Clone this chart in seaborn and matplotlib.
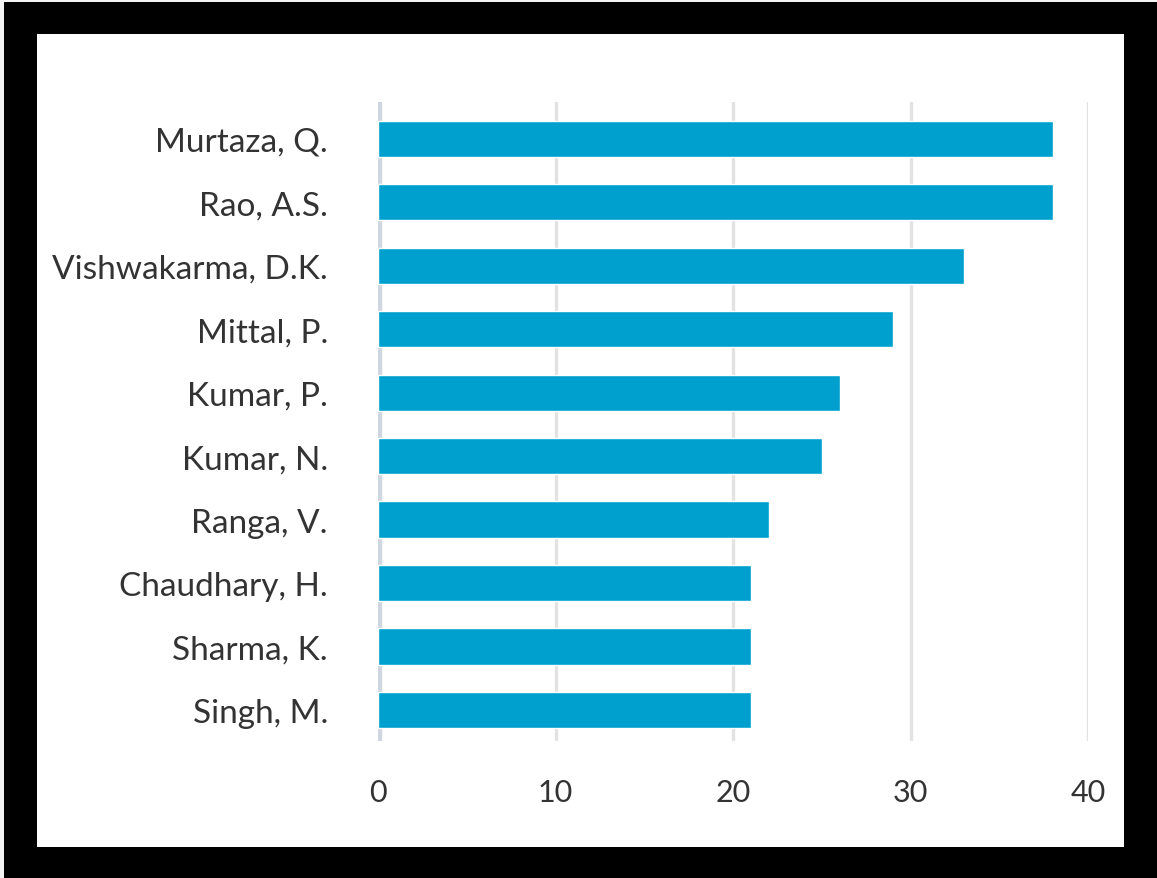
"""
Horizontal bar chart: top 10 authors by count, framed in a thick black border.
"""

import matplotlib
matplotlib.use("Agg")  # headless-safe backend
import matplotlib.pyplot as plt
import pandas as pd
import seaborn as sns
from matplotlib.patches import Rectangle

W, H, DPI = 1157, 879, 100

authors = ["Murtaza, Q.", "Rao, A.S.", "Vishwakarma, D.K.", "Mittal, P.",
           "Kumar, P.", "Kumar, N.", "Ranga, V.", "Chaudhary, H.",
           "Sharma, K.", "Singh, M."]
counts = [38, 38, 33, 29, 26, 25, 22, 21, 21, 21]
x_ticks = [0, 10, 20, 30, 40]

BAR_COLOR = "#00a0ce"
TEXT_COLOR = "#333333"

sns.set_style("white")
plt.rcParams["font.family"] = ["Lato", "DejaVu Sans"]

df = pd.DataFrame({"author": authors, "count": counts})

fig = plt.figure(figsize=(W / DPI, H / DPI), dpi=DPI, facecolor="black")


# white inner panel inside the black frame (pixel coords -> figure fraction)
def px_rect(x0, y0, x1, y1, color):
    fig.patches.append(Rectangle((x0 / W, 1 - y1 / H), (x1 - x0) / W, (y1 - y0) / H,
                                 transform=fig.transFigure, facecolor=color,
                                 edgecolor="none", zorder=-5))


px_rect(37, 35, 1124, 848, "white")
px_rect(0, 0, 4, H, "#f4f4f4")
px_rect(0, 0, W, 3, "#f4f4f4")

ax = fig.add_axes([378 / W, 1 - 742 / H, (1088 - 378) / W, (742 - 103) / H])
ax.set_facecolor("none")

sns.barplot(data=df, x="count", y="author", orient="h", color=BAR_COLOR,
            saturation=1, width=0.57, ax=ax, zorder=3)

ax.set_xlim(0, 40)
ax.set_ylim(9.49, -0.58)
ax.set_xticks(x_ticks)
ax.set_xlabel("")
ax.set_ylabel("")

# vertical gridlines, the zero line is a bit heavier and bluish
for t in x_ticks[1:]:
    ax.axvline(t, color="#e2e2e2", lw=2.4, zorder=1)
ax.axvline(0, color="#d0d6e0", lw=6, zorder=2)

for s in ax.spines.values():
    s.set_visible(False)
ax.tick_params(axis="both", length=0, colors=TEXT_COLOR)
ax.tick_params(axis="x", labelsize=22, pad=27)
ax.tick_params(axis="y", labelsize=24, pad=36)

fig.savefig("out.png", dpi=DPI, facecolor=fig.get_facecolor())
